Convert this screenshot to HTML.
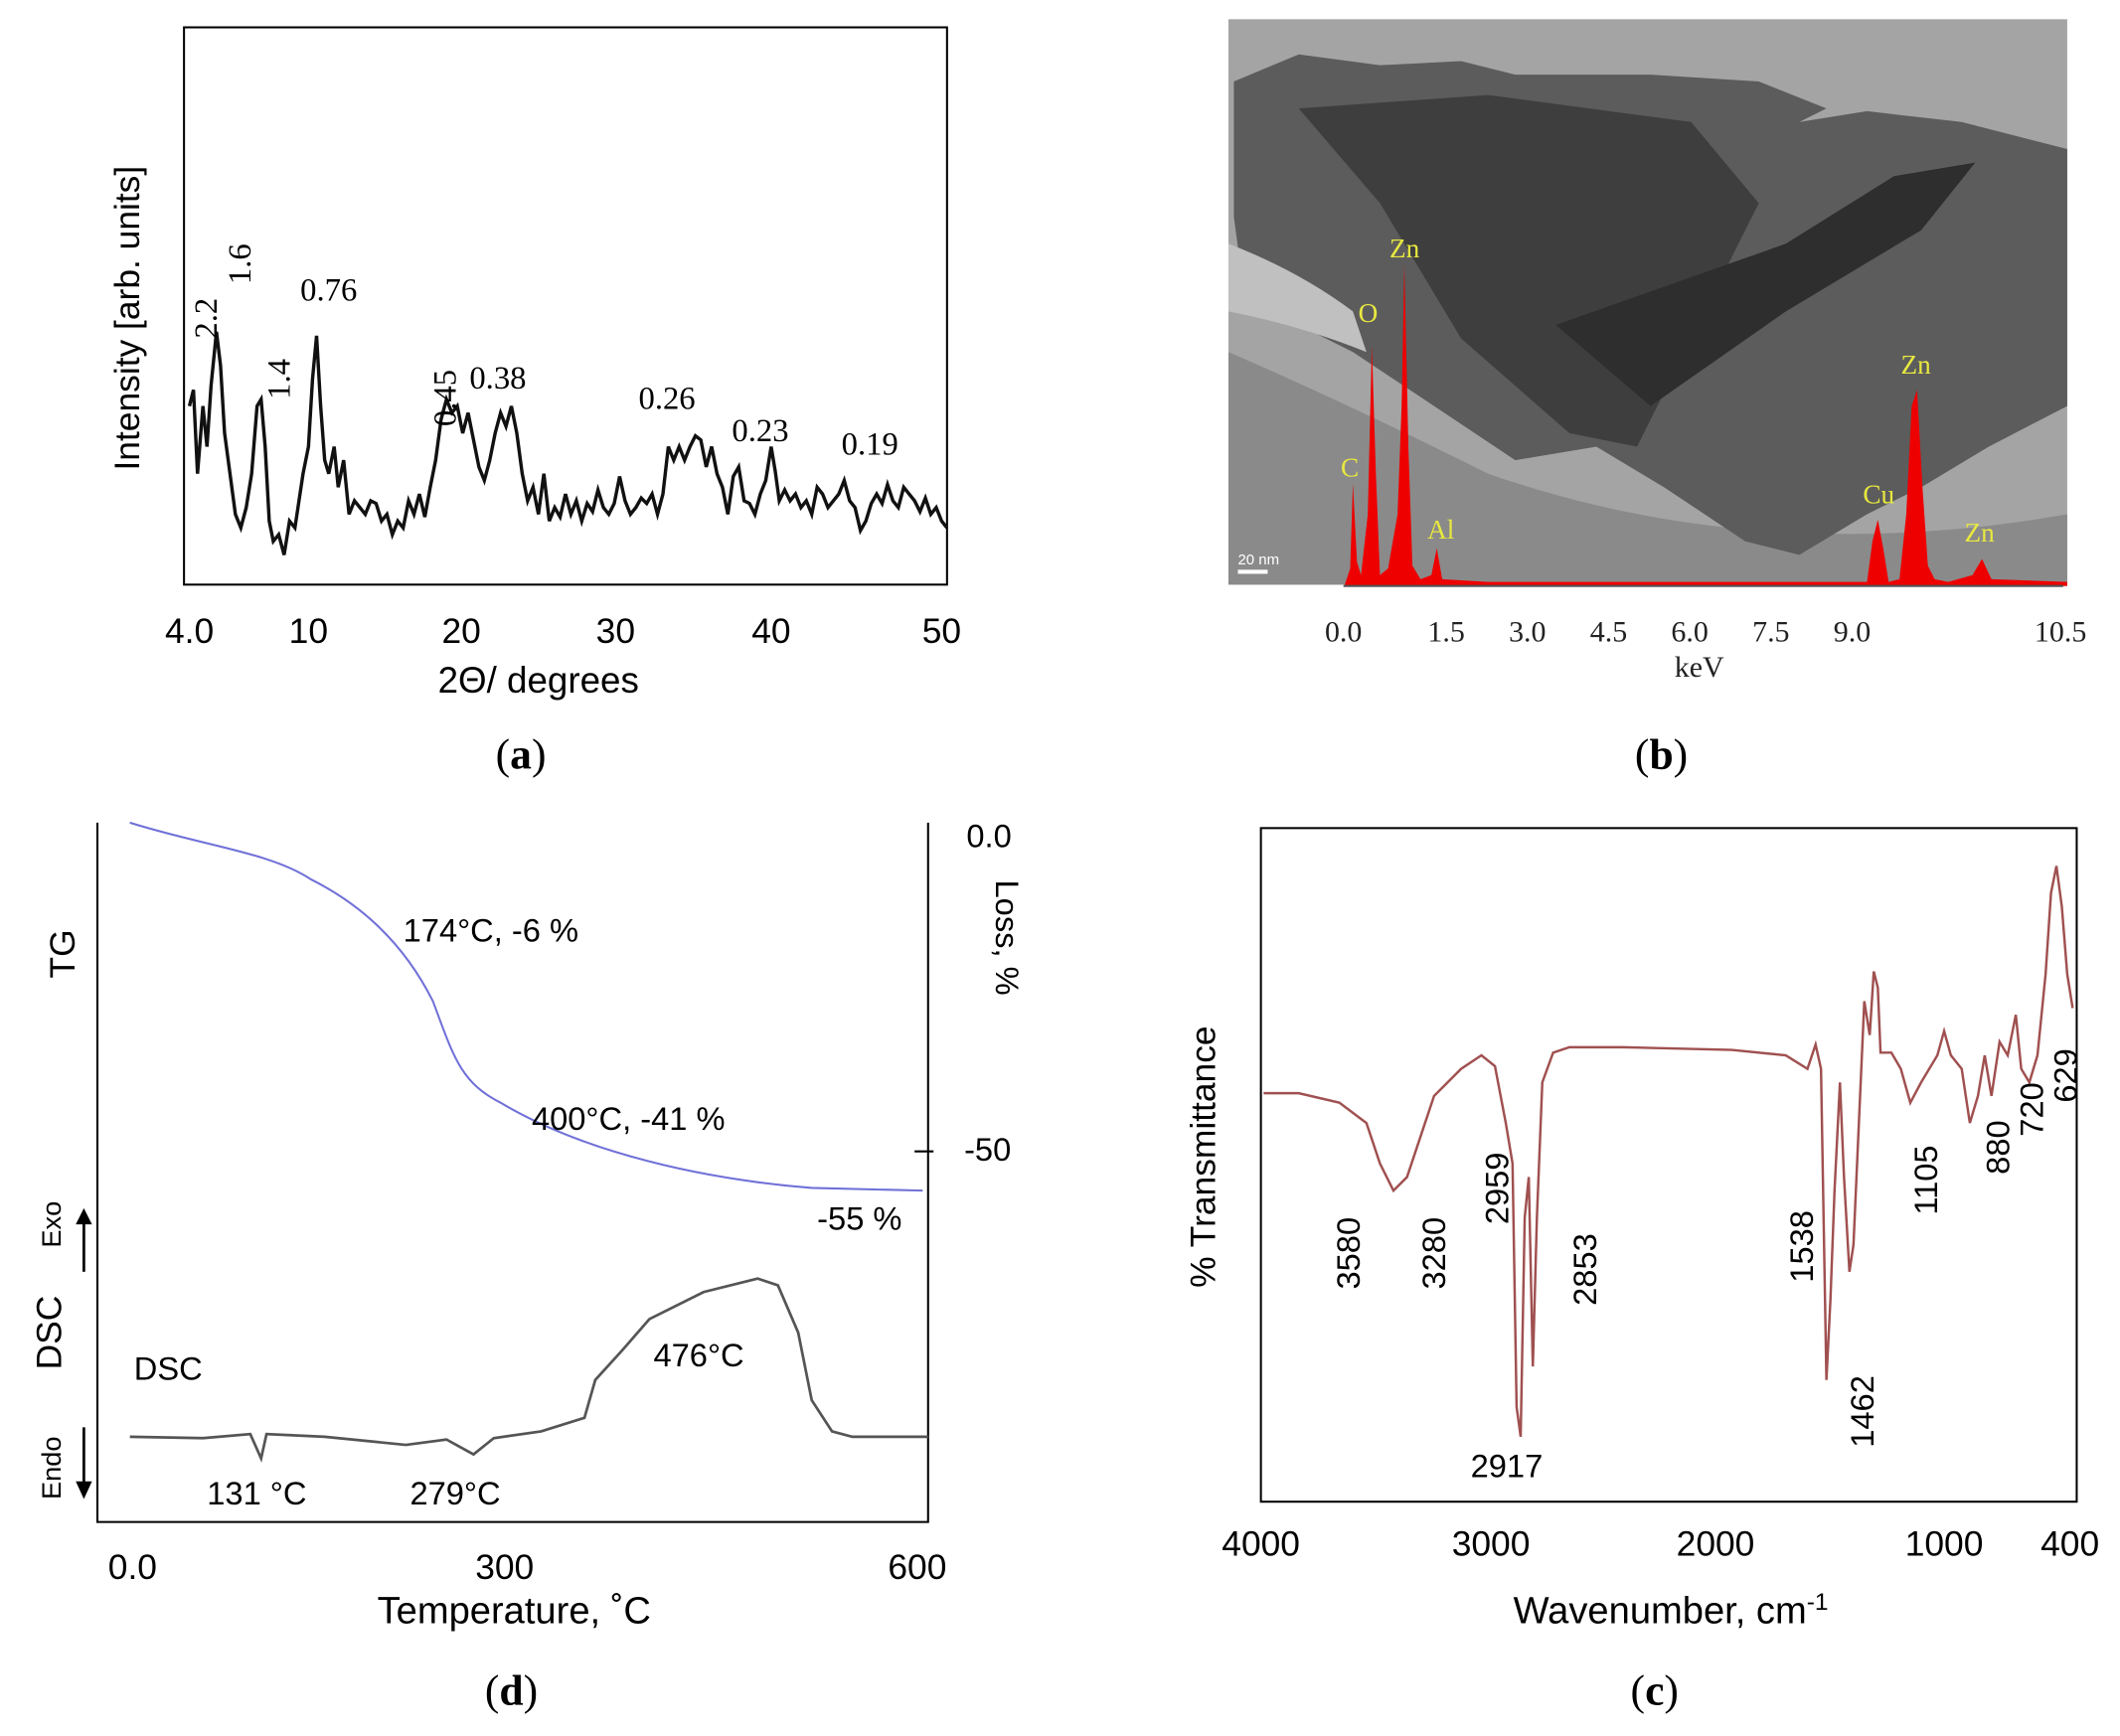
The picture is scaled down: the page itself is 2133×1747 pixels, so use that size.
<!DOCTYPE html>
<html><head><meta charset="utf-8"><style>
html,body{margin:0;padding:0;background:#fff}
svg{display:block}
text{font-family:"Liberation Sans",sans-serif}
text.s, tspan.s{font-family:"Liberation Serif",serif}
</style></head><body>
<svg width="2133" height="1747" viewBox="0 0 1567 1283" xmlns="http://www.w3.org/2000/svg">
<!-- (a) -->
<rect x="136" y="20" width="564" height="412" fill="none" stroke="#000" stroke-width="1.5"/>
<polyline fill="none" stroke="#111" stroke-width="2.5" points="140,300 143,288 146,350 150,300 153,330 156,285 160,245 163,270 166,320 170,350 174,380 178,390 182,375 186,350 190,300 193,295 196,330 199,385 202,400 206,395 210,410 214,385 218,390 221,370 224,350 228,330 231,280 234,248 237,300 240,340 243,350 247,330 250,360 254,340 258,380 262,370 266,375 270,380 274,370 278,372 282,385 286,380 290,395 294,385 298,390 302,370 306,380 310,365 314,382 318,360 322,340 326,310 330,295 334,305 338,300 342,320 346,305 350,325 354,345 358,355 362,340 366,320 370,305 374,315 378,300 382,320 386,350 390,370 394,360 398,380 402,350 406,385 410,375 414,382 418,365 422,380 426,370 430,385 434,372 438,378 442,362 446,375 450,380 454,372 458,352 462,370 466,380 470,375 474,368 478,372 482,365 486,380 490,365 494,330 498,340 502,330 506,340 510,330 514,322 518,325 522,345 526,330 530,350 534,360 538,380 542,352 546,345 550,370 554,372 558,380 562,365 566,355 570,330 573,348 576,370 580,362 584,370 588,365 592,375 596,370 600,380 604,360 608,365 612,375 616,370 620,365 624,355 628,370 632,375 636,392 640,385 644,372 648,365 652,372 656,358 660,370 664,375 668,360 672,365 676,370 680,378 684,368 688,380 692,375 696,385 700,390"/>
<g font-size="24">
<text class="s" x="160" y="250" transform="rotate(-90 160 250)">2.2</text>
<text class="s" x="185" y="210" transform="rotate(-90 185 210)">1.6</text>
<text class="s" x="214" y="295" transform="rotate(-90 214 295)">1.4</text>
<text class="s" x="222" y="222">0.76</text>
<text class="s" x="337" y="315" transform="rotate(-90 337 315)">0.45</text>
<text class="s" x="347" y="287">0.38</text>
<text class="s" x="472" y="302">0.26</text>
<text class="s" x="541" y="326">0.23</text>
<text class="s" x="622" y="336">0.19</text>
</g>
<text x="103" y="235" font-size="26" text-anchor="middle" transform="rotate(-90 103 235)">Intensity [arb. units]</text>
<g font-size="26" text-anchor="middle">
<text x="140" y="475">4.0</text><text x="228" y="475">10</text><text x="341" y="475">20</text><text x="455" y="475">30</text><text x="570" y="475">40</text><text x="696" y="475">50</text>
</g>
<text x="398" y="512" font-size="27" text-anchor="middle">2Θ/ degrees</text>
<text class="s" x="385" y="568" font-size="32" text-anchor="middle">(<tspan class="s" font-weight="bold">a</tspan>)</text>
<!-- (b) -->
<rect x="908" y="14" width="620" height="418" fill="#a4a4a4"/>
<path d="M908,260 Q1000,300 1100,350 Q1300,420 1528,380 L1528,432 L908,432 Z" fill="#8a8a8a"/>
<path d="M912,60 L960,40 L1020,48 L1080,45 L1120,55 L1220,55 L1300,60 L1350,80 L1330,90 L1380,82 L1450,90 L1528,110 L1528,300 L1470,330 L1420,360 L1380,380 L1330,410 L1290,400 L1230,360 L1180,330 L1120,340 L1060,300 L1000,260 L960,240 L920,220 L912,160 Z" fill="#5c5c5c"/>
<path d="M960,80 L1100,70 L1250,90 L1300,150 L1260,230 L1210,330 L1160,320 L1080,250 L1020,150 Z" fill="#3e3e3e"/>
<path d="M1150,240 L1320,180 L1400,130 L1460,120 L1420,170 L1320,230 L1220,300 Z" fill="#2e2e2e"/>
<path d="M908,180 Q960,200 1000,230 L1010,260 Q960,240 908,230 Z" fill="#c0c0c0"/>
<path d="M994,432 L998,420 L1000,357 L1003,415 L1006,425 L1011,380 L1014,255 L1017,350 L1020,425 L1026,420 L1033,380 L1036,300 L1038,195 L1041,330 L1044,418 L1050,428 L1058,425 L1062,405 L1066,428 L1100,430 L1380,430 L1384,400 L1388,384 L1392,405 L1396,430 L1404,428 L1409,380 L1413,300 L1417,288 L1421,360 L1425,418 L1430,428 L1440,430 L1458,425 L1465,413 L1472,428 L1528,430 L1528,433 L994,433 Z" fill="#ee0000"/>
<g font-size="20" fill="#e8e840">
<text class="s" x="991" y="352">C</text><text class="s" x="1004" y="238">O</text><text class="s" x="1027" y="190">Zn</text><text class="s" x="1055" y="398">Al</text><text class="s" x="1377" y="372">Cu</text><text class="s" x="1405" y="276">Zn</text><text class="s" x="1452" y="400">Zn</text>
</g>
<text x="915" y="417" font-size="11" fill="#fff">20 nm</text>
<rect x="915" y="421" width="22" height="3" fill="#fff"/>
<line x1="993" y1="433" x2="1525" y2="433" stroke="#555" stroke-width="1.5"/>
<g font-size="22" text-anchor="middle" fill="#222">
<text class="s" x="993" y="474">0.0</text><text class="s" x="1069" y="474">1.5</text><text class="s" x="1129" y="474">3.0</text><text class="s" x="1189" y="474">4.5</text><text class="s" x="1249" y="474">6.0</text><text class="s" x="1309" y="474">7.5</text><text class="s" x="1369" y="474">9.0</text><text class="s" x="1523" y="474">10.5</text>
<text class="s" x="1256" y="500">keV</text>
</g>
<text class="s" x="1228" y="568" font-size="32" text-anchor="middle">(<tspan class="s" font-weight="bold">b</tspan>)</text>
<!-- (d) -->
<polyline fill="none" stroke="#000" stroke-width="1.5" points="72,608 72,1125 686,1125 686,608"/>
<line x1="676" y1="851" x2="690" y2="851" stroke="#000" stroke-width="1.5"/>
<path d="M96,608 C150,625 200,630 230,650 C270,670 300,700 320,740 C335,780 340,800 370,815 C420,845 500,870 600,878 L682,880" fill="none" stroke="#7070d8" stroke-width="1.5"/>
<path d="M96,1062 L150,1063 L185,1060 L193,1078 L197,1060 L240,1062 L300,1068 L330,1064 L350,1075 L365,1063 L400,1058 L432,1048 L440,1020 L460,998 L480,975 L520,955 L560,945 L575,950 L590,985 L600,1035 L615,1058 L630,1062 L686,1062" fill="none" stroke="#555" stroke-width="2"/>
<g font-size="24">
<text x="298" y="696">174°C, -6 %</text>
<text x="393" y="835">400°C, -41 %</text>
<text x="604" y="909">-55 %</text>
<text x="483" y="1010">476°C</text>
<text x="99" y="1020">DSC</text>
<text x="153" y="1112">131 °C</text>
<text x="303" y="1112">279°C</text>
<text x="731" y="626" text-anchor="middle">0.0</text>
<text x="730" y="858" text-anchor="middle">-50</text>
<text x="736" y="693" text-anchor="middle" transform="rotate(90 736 693)">Loss, %</text>
</g>
<text x="55" y="705" font-size="26" text-anchor="middle" transform="rotate(-90 55 705)">TG</text>
<text x="45" y="985" font-size="26" text-anchor="middle" transform="rotate(-90 45 985)">DSC</text>
<text x="45" y="905" font-size="20" text-anchor="middle" transform="rotate(-90 45 905)">Exo</text>
<text x="45" y="1085" font-size="20" text-anchor="middle" transform="rotate(-90 45 1085)">Endo</text>
<line x1="62" y1="940" x2="62" y2="898" stroke="#000" stroke-width="2"/><path d="M56,905 L62,893 L68,905 Z"/>
<line x1="62" y1="1055" x2="62" y2="1100" stroke="#000" stroke-width="2"/><path d="M56,1095 L62,1108 L68,1095 Z"/>
<g font-size="26" text-anchor="middle">
<text x="98" y="1167">0.0</text><text x="373" y="1167">300</text><text x="678" y="1167">600</text>
</g>
<text x="380" y="1200" font-size="28" text-anchor="middle">Temperature, ˚C</text>
<text class="s" x="378" y="1260" font-size="32" text-anchor="middle">(<tspan class="s" font-weight="bold">d</tspan>)</text>
<!-- (c) -->
<rect x="932" y="612" width="603" height="498" fill="none" stroke="#000" stroke-width="1.5"/>
<polyline fill="none" stroke="#a05050" stroke-width="1.8" points="934,808 960,808 990,815 1010,830 1020,860 1030,880 1040,870 1050,840 1060,810 1070,800 1080,790 1095,780 1105,788 1113,830 1118,860 1121,1040 1124,1062 1127,900 1130,870 1133,1010 1136,900 1140,800 1148,778 1160,774 1200,774 1280,776 1320,780 1336,790 1342,772 1346,790 1350,1020 1353,960 1356,880 1360,800 1363,870 1367,940 1370,920 1374,830 1378,740 1382,765 1385,718 1388,730 1390,778 1398,778 1405,790 1412,815 1420,800 1432,780 1437,762 1442,780 1450,790 1456,830 1462,810 1467,780 1472,810 1478,770 1484,780 1490,750 1494,790 1500,800 1506,780 1512,720 1516,660 1520,640 1524,670 1528,720 1532,745"/>
<g font-size="24">
<text x="1005" y="953" transform="rotate(-90 1005 953)">3580</text>
<text x="1068" y="953" transform="rotate(-90 1068 953)">3280</text>
<text x="1115" y="905" transform="rotate(-90 1115 905)">2959</text>
<text x="1180" y="965" transform="rotate(-90 1180 965)">2853</text>
<text x="1340" y="948" transform="rotate(-90 1340 948)">1538</text>
<text x="1385" y="1070" transform="rotate(-90 1385 1070)">1462</text>
<text x="1432" y="898" transform="rotate(-90 1432 898)">1105</text>
<text x="1485" y="868" transform="rotate(-90 1485 868)">880</text>
<text x="1510" y="840" transform="rotate(-90 1510 840)">720</text>
<text x="1535" y="815" transform="rotate(-90 1535 815)">629</text>
<text x="1087" y="1092">2917</text>
</g>
<text x="898" y="855" font-size="26" text-anchor="middle" transform="rotate(-90 898 855)">% Transmittance</text>
<g font-size="26" text-anchor="middle">
<text x="932" y="1150">4000</text><text x="1102" y="1150">3000</text><text x="1268" y="1150">2000</text><text x="1437" y="1150">1000</text><text x="1530" y="1150">400</text>
</g>
<text x="1235" y="1200" font-size="28" text-anchor="middle">Wavenumber, cm<tspan font-size="18" dy="-10">-1</tspan></text>
<text class="s" x="1223" y="1260" font-size="32" text-anchor="middle">(<tspan class="s" font-weight="bold">c</tspan>)</text>
</svg>
</body></html>
